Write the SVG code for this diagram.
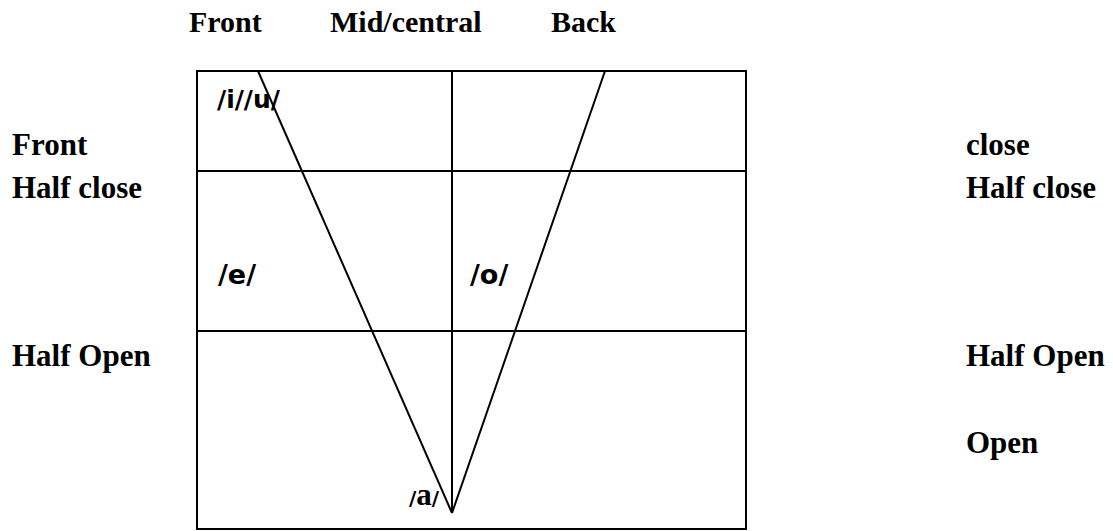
<svg xmlns="http://www.w3.org/2000/svg" width="1113" height="531" viewBox="0 0 1113 531">
<style>
.lbl{font-family:"Liberation Serif","Times New Roman",serif;font-weight:bold;font-size:31px;fill:#000}
.top{font-size:30px}
.snd{font-family:"DejaVu Sans",sans-serif;font-weight:bold;fill:#000}
.ln{stroke:#000;stroke-width:2;fill:none}
</style>
<rect width="1113" height="531" fill="#fff"/>
<g id="chart">
<rect class="ln" x="197" y="71" width="549" height="458"/>
<line class="ln" x1="197" y1="171" x2="746" y2="171"/>
<line class="ln" x1="197" y1="331" x2="746" y2="331"/>
<line class="ln" x1="452" y1="71" x2="452" y2="513"/>
</g>
<g id="connectors">
<line class="ln" x1="258" y1="71" x2="452" y2="513"/>
<line class="ln" x1="605" y1="71" x2="452" y2="513"/>
</g>
<g id="top-labels">
<text class="lbl top" x="189" y="32">Front</text>
<text class="lbl top" x="330" y="32">Mid/central</text>
<text class="lbl top" x="551" y="32">Back</text>
</g>
<g id="left-labels">
<text class="lbl" x="12" y="155">Front</text>
<text class="lbl" x="12" y="198">Half close</text>
<text class="lbl" x="12" y="366">Half Open</text>
</g>
<g id="right-labels">
<text class="lbl" x="966" y="155">close</text>
<text class="lbl" x="966" y="198">Half close</text>
<text class="lbl" x="966" y="366">Half Open</text>
<text class="lbl" x="966" y="453">Open</text>
</g>
<g id="sounds">
<text class="snd" x="217" y="108" font-size="25">/i//u/</text>
<text class="snd" x="218" y="284" font-size="27">/e/</text>
<text class="snd" x="470" y="284" font-size="27">/o/</text>
<text x="409" y="505"><tspan class="snd" font-size="20">/</tspan><tspan class="lbl" font-size="24">a</tspan><tspan class="snd" font-size="20">/</tspan></text>
</g>
</svg>
